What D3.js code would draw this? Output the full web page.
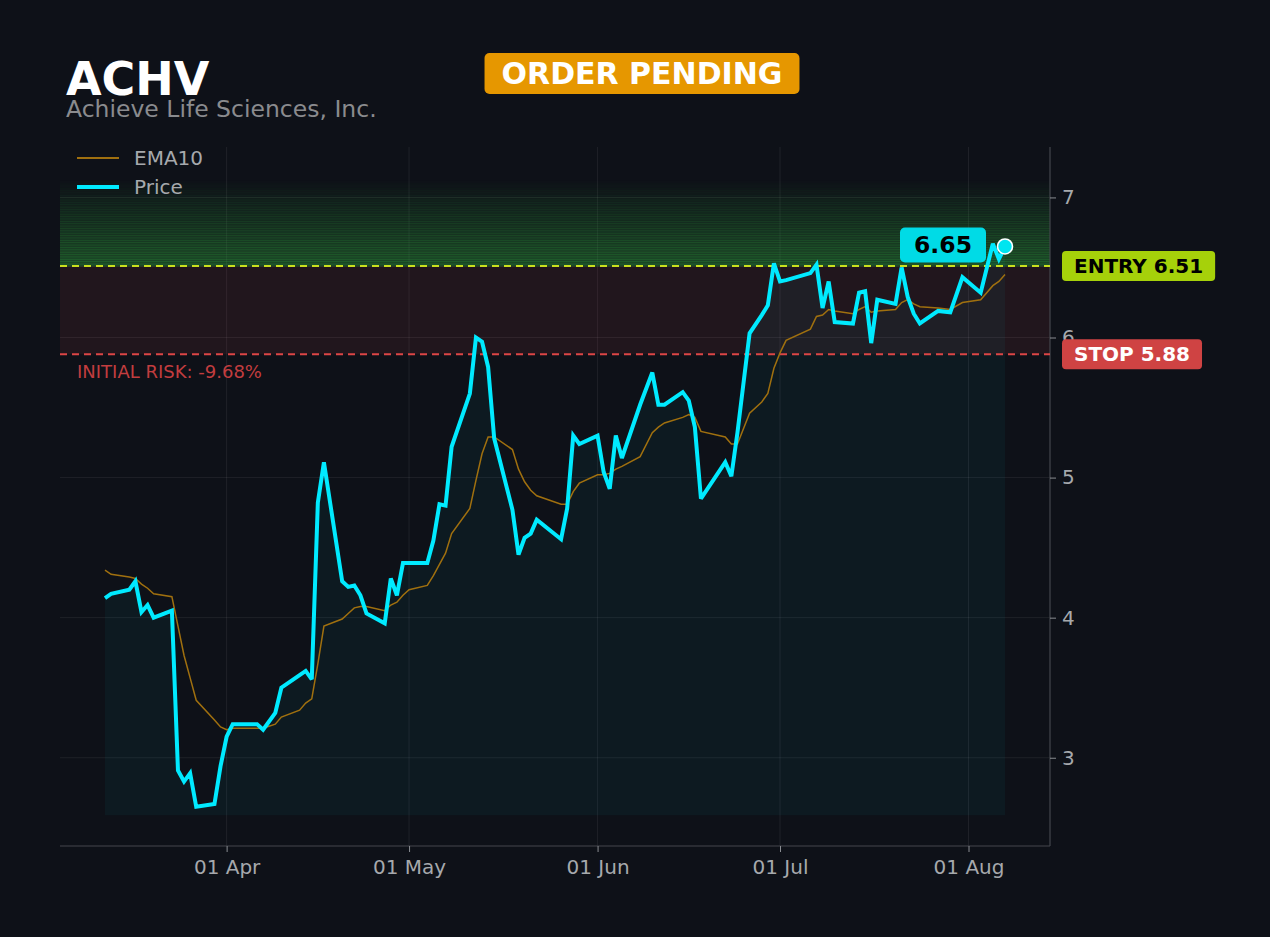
<!DOCTYPE html>
<html>
<head>
<meta charset="utf-8">
<script src="https://cdn.jsdelivr.net/npm/d3@7"></script>
<style>
  html, body { margin: 0; padding: 0; background: #0e1118; }
  svg { display: block; font-family: "DejaVu Sans", sans-serif; }
</style>
</head>
<body>
<div id="chart"></div>
<script>
// ---- data ----
var dates = ["2025-03-12","2025-03-13","2025-03-16","2025-03-17","2025-03-18","2025-03-19","2025-03-20","2025-03-23","2025-03-24","2025-03-25",
  "2025-03-26","2025-03-27","2025-03-30","2025-03-31","2025-04-01","2025-04-02","2025-04-06","2025-04-07","2025-04-09","2025-04-10",
  "2025-04-13","2025-04-14","2025-04-15","2025-04-16","2025-04-17","2025-04-20","2025-04-21","2025-04-22","2025-04-23","2025-04-24",
  "2025-04-27","2025-04-28","2025-04-29","2025-04-30","2025-05-01","2025-05-04","2025-05-05","2025-05-06","2025-05-07","2025-05-08",
  "2025-05-11","2025-05-12","2025-05-13","2025-05-14","2025-05-15","2025-05-18","2025-05-19","2025-05-20","2025-05-21","2025-05-22",
  "2025-05-26","2025-05-27","2025-05-28","2025-05-29","2025-06-01","2025-06-02","2025-06-03","2025-06-04","2025-06-05","2025-06-08",
  "2025-06-10","2025-06-11","2025-06-12","2025-06-15","2025-06-16","2025-06-17","2025-06-18","2025-06-22","2025-06-23","2025-06-24",
  "2025-06-26","2025-06-28","2025-06-29","2025-06-30","2025-07-01","2025-07-02","2025-07-06","2025-07-07","2025-07-08","2025-07-09",
  "2025-07-10","2025-07-13","2025-07-14","2025-07-15","2025-07-16","2025-07-17","2025-07-20","2025-07-21","2025-07-22","2025-07-23",
  "2025-07-24","2025-07-27","2025-07-29","2025-07-31","2025-08-03","2025-08-05","2025-08-06","2025-08-07"]

var price = [4.14,4.17,4.20,4.26,4.04,4.09,4.00,4.05,2.91,2.83,
  2.89,2.65,2.67,2.94,3.15,3.24,3.24,3.20,3.32,3.50,
  3.59,3.62,3.56,4.82,5.11,4.26,4.22,4.23,4.16,4.03,
  3.96,4.28,4.16,4.39,4.39,4.39,4.55,4.81,4.80,5.22,
  5.60,6.00,5.97,5.79,5.28,4.77,4.45,4.57,4.60,4.70,
  4.56,4.78,5.30,5.24,5.30,5.04,4.92,5.30,5.14,5.52,
  5.75,5.52,5.52,5.61,5.55,5.36,4.85,5.11,5.01,5.32,
  6.03,6.16,6.23,6.53,6.40,6.41,6.46,6.52,6.21,6.40,
  6.11,6.10,6.32,6.33,5.96,6.27,6.24,6.50,6.29,6.17,
  6.10,6.19,6.18,6.43,6.32,6.67,6.56,6.65]

var ema10 = [4.34,4.31,4.29,4.28,4.24,4.21,4.17,4.15,3.94,3.73,
  3.57,3.41,3.27,3.22,3.20,3.21,3.21,3.21,3.24,3.29,
  3.34,3.39,3.42,3.67,3.94,3.99,4.03,4.07,4.08,4.08,
  4.05,4.09,4.11,4.16,4.20,4.23,4.30,4.38,4.46,4.60,
  4.78,4.98,5.17,5.29,5.29,5.20,5.06,4.97,4.91,4.87,
  4.81,4.81,4.90,4.96,5.02,5.02,5.03,5.06,5.08,5.15,
  5.32,5.36,5.39,5.43,5.45,5.43,5.33,5.29,5.24,5.24,
  5.46,5.54,5.60,5.78,5.89,5.98,6.06,6.15,6.16,6.20,
  6.19,6.17,6.20,6.22,6.18,6.19,6.20,6.25,6.27,6.24,
  6.22,6.21,6.20,6.25,6.27,6.37,6.40,6.45]

var yTicks = [3, 4, 5, 6, 7]
var ticker = "ACHV"
var company = "Achieve Life Sciences, Inc."
var status = "ORDER PENDING"
var entry = 6.51
var stop = 5.88
var zoneTop = 7.12     // top of the green zone above entry
var areaBase = 2.59    // floor of the shaded area under price
var riskPct = -9.68

// ---- layout ----
var W = 1270, H = 937
var m = { left: 60, right: 1050, top: 147, bottom: 846 }

var parse = d3.timeParse("%Y-%m-%d")
var rows = dates.map(function (d, i) {
  return { date: parse(d), price: price[i], ema: ema10[i] }
})

var ext = d3.extent(rows, function (d) { return d.date })
var pad = (ext[1] - ext[0]) * 0.05
var x = d3.scaleTime()
  .domain([new Date(+ext[0] - pad), new Date(+ext[1] + pad)])
  .range([m.left, m.right])
var y = d3.scaleLinear().domain([2.37, 7.36]).range([m.bottom, m.top])

var svg = d3.select("#chart").append("svg")
  .attr("width", W).attr("height", H)

svg.append("rect").attr("width", W).attr("height", H).attr("fill", "#0e1118")

// grid
var xTicks = x.ticks(d3.timeMonth.every(1))
svg.append("g").selectAll("line").data(xTicks).enter().append("line")
  .attr("x1", function (d) { return x(d) }).attr("x2", function (d) { return x(d) })
  .attr("y1", m.top).attr("y2", m.bottom)
  .attr("stroke", "#ffffff").attr("stroke-opacity", 0.07).attr("stroke-width", 1)
svg.append("g").selectAll("line").data(yTicks).enter().append("line")
  .attr("x1", m.left).attr("x2", m.right)
  .attr("y1", function (d) { return y(d) }).attr("y2", function (d) { return y(d) })
  .attr("stroke", "#ffffff").attr("stroke-opacity", 0.07).attr("stroke-width", 1)

// green zone above entry (striped fade)
var bands = 36, step = (zoneTop - entry) / bands
var gz = svg.append("g")
for (var i = 0; i < bands; i++) {
  var lo = entry + i * step, hi = lo + step
  gz.append("rect")
    .attr("x", m.left).attr("width", m.right - m.left)
    .attr("y", y(hi)).attr("height", y(lo) - y(hi) + 0.7)
    .attr("fill", "#2f9a3c")
    .attr("opacity", 0.4 * (1 - i / bands))
}

// risk zone between stop and entry
svg.append("rect")
  .attr("x", m.left).attr("width", m.right - m.left)
  .attr("y", y(entry)).attr("height", y(stop) - y(entry))
  .attr("fill", "#d04050").attr("opacity", 0.1)

// area under price
var area = d3.area()
  .x(function (d) { return x(d.date) })
  .y0(y(areaBase))
  .y1(function (d) { return y(d.price) })
svg.append("path").datum(rows)
  .attr("d", area)
  .attr("fill", "#00e5ff").attr("opacity", 0.045)

// spines
svg.append("line").attr("x1", m.right).attr("x2", m.right).attr("y1", m.top).attr("y2", m.bottom)
  .attr("stroke", "#44474d").attr("stroke-width", 1.2)
svg.append("line").attr("x1", m.left).attr("x2", m.right).attr("y1", m.bottom).attr("y2", m.bottom)
  .attr("stroke", "#44474d").attr("stroke-width", 1.2)

// axes
var yAxis = svg.append("g")
  .attr("transform", "translate(" + m.right + ",0)")
  .call(d3.axisRight(y).tickValues(yTicks).tickSize(6).tickPadding(6).tickFormat(d3.format("d")))
var xAxis = svg.append("g")
  .attr("transform", "translate(0," + m.bottom + ")")
  .call(d3.axisBottom(x).tickValues(xTicks).tickSize(6).tickPadding(8).tickFormat(d3.timeFormat("%d %b")))
;[xAxis, yAxis].forEach(function (g) {
  g.select(".domain").remove()
  g.selectAll(".tick line").attr("stroke", "#8a8d92")
  g.selectAll(".tick text").attr("fill", "#a6a9ad").attr("font-size", 20)
    .attr("font-family", "DejaVu Sans")
})

// entry / stop lines
svg.append("line").attr("x1", m.left).attr("x2", m.right)
  .attr("y1", y(entry)).attr("y2", y(entry))
  .attr("stroke", "#c8e01e").attr("stroke-width", 2).attr("stroke-dasharray", "7,5")
svg.append("line").attr("x1", m.left).attr("x2", m.right)
  .attr("y1", y(stop)).attr("y2", y(stop))
  .attr("stroke", "#dc4646").attr("stroke-width", 2).attr("stroke-dasharray", "7,5")

// lines
var emaLine = d3.line().x(function (d) { return x(d.date) }).y(function (d) { return y(d.ema) })
var priceLine = d3.line().x(function (d) { return x(d.date) }).y(function (d) { return y(d.price) })

svg.append("path").datum(rows).attr("d", emaLine)
  .attr("fill", "none").attr("stroke", "#a0700f").attr("stroke-width", 1.5)
svg.append("path").datum(rows).attr("d", priceLine)
  .attr("fill", "none").attr("stroke", "#00eaff").attr("stroke-width", 4)
  .attr("stroke-linejoin", "miter").attr("stroke-miterlimit", 3)

// last point marker + label
var last = rows[rows.length - 1]
svg.append("circle")
  .attr("cx", x(last.date)).attr("cy", y(last.price)).attr("r", 7.5)
  .attr("fill", "#00e5f0").attr("stroke", "#ffffff").attr("stroke-width", 1.6)

var lblCx = x(last.date) - 62, lblCy = y(last.price) - 1
svg.append("rect")
  .attr("x", lblCx - 43).attr("y", lblCy - 18).attr("width", 86).attr("height", 35)
  .attr("rx", 5).attr("fill", "#00dbe6")
svg.append("text")
  .attr("x", lblCx).attr("y", lblCy + 8)
  .attr("text-anchor", "middle").attr("font-weight", "bold").attr("font-size", 23.5)
  .attr("fill", "#000").text(last.price.toFixed(2))

// right-side badges
function badge(yv, label, bg, fg) {
  var g = svg.append("g")
  var t = g.append("text")
    .attr("x", 1074).attr("y", y(yv) + 7)
    .attr("font-weight", "bold").attr("font-size", 20)
    .attr("fill", fg).text(label)
  var w = t.node().getComputedTextLength()
  g.insert("rect", "text")
    .attr("x", 1062).attr("y", y(yv) - 15)
    .attr("width", w + 24).attr("height", 30).attr("rx", 4)
    .attr("fill", bg)
}
badge(entry, "ENTRY " + entry.toFixed(2), "#a6d10a", "#000000")
badge(stop, "STOP " + stop.toFixed(2), "#cf4343", "#ffffff")

svg.append("text")
  .attr("x", 77).attr("y", y(stop) + 24)
  .attr("font-size", 18).attr("fill", "#c23d3f")
  .text("INITIAL RISK: " + riskPct.toFixed(2) + "%")

// title
svg.append("text").attr("x", 66).attr("y", 95)
  .attr("font-size", 46).attr("font-weight", "bold").attr("fill", "#ffffff").text(ticker)
svg.append("text").attr("x", 66).attr("y", 117)
  .attr("font-size", 23.5).attr("fill", "#8a8b8e").text(company)

// status badge
var sb = svg.append("g")
var st = sb.append("text").attr("x", 642).attr("y", 84)
  .attr("text-anchor", "middle").attr("font-size", 30).attr("font-weight", "bold")
  .attr("fill", "#ffffff").text(status)
var sw = st.node().getComputedTextLength()
sb.insert("rect", "text")
  .attr("x", 642 - sw / 2 - 17).attr("y", 53)
  .attr("width", sw + 34).attr("height", 41).attr("rx", 5)
  .attr("fill", "#e69700")

// legend
var legend = svg.append("g")
legend.append("line").attr("x1", 77).attr("x2", 119).attr("y1", 158).attr("y2", 158)
  .attr("stroke", "#a0700f").attr("stroke-width", 1.8)
legend.append("text").attr("x", 134).attr("y", 165)
  .attr("font-size", 20).attr("fill", "#a6a9ad").text("EMA10")
legend.append("line").attr("x1", 77).attr("x2", 119).attr("y1", 187).attr("y2", 187)
  .attr("stroke", "#00eaff").attr("stroke-width", 4)
legend.append("text").attr("x", 134).attr("y", 194)
  .attr("font-size", 20).attr("fill", "#a6a9ad").text("Price")
</script>
</body>
</html>
